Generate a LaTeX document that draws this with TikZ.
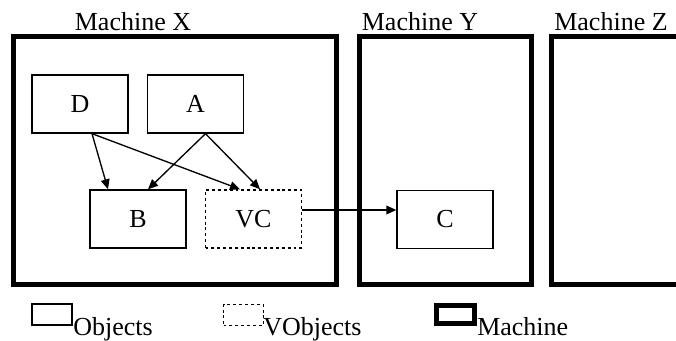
\documentclass[tikz,border=0pt]{standalone}
\usepackage{fontspec}
\setmainfont{Liberation Serif}
\usetikzlibrary{arrows.meta,positioning,calc}

\begin{document}
\begin{tikzpicture}[
  x=0.75pt, y=-0.75pt, every node/.style={font=\fontsize{19.5}{22}\selectfont},
  mach/.style={draw, line width=3.75pt, inner sep=0pt, minimum height=186pt},
  obj/.style={draw, line width=1pt, minimum width=72pt, minimum height=43.5pt, inner sep=0pt},
  vobj/.style={obj, dash pattern=on 2.2pt off 2.2pt, line width=1.1pt},
  mlbl/.style={anchor=base, inner sep=0pt},
  key/.style={draw, line width=1.3pt, minimum width=30pt, minimum height=15.5pt, inner sep=0pt},
  keytxt/.style={anchor=base west, inner sep=0pt},
  rr/.style={-{Triangle[length=7.5pt,width=6.5pt]}, line width=1pt},
]
\useasboundingbox (0,0) rectangle (676,341);
\clip (0,0) rectangle (676,341);
% ---------------- machines ----------------
\node[mach, minimum width=241.9pt] (mX) at (174.75,160.5) {};
\node[mlbl] (lX) at (133,31) {Machine X};
\node[mach, minimum width=129pt] (mY) at (445.5,160.5) {};
\node[mlbl] (lY) at (420,31) {Machine Y};
\node[mach, minimum width=129pt] (mZ) at (637.5,160.5) {};
\node[mlbl] (lZ) at (611,31) {Machine Z};
% ---------------- objects ----------------
\node[obj] (D) at (80,104) {D};
\node[obj] (A) at (195.5,104) {A};
\node[obj] (B) at (138,219) {B};
\node[vobj] (VC) at (253.5,219) {VC};
\node[obj] (C) at (445,219.5) {C};
% ---------------- references ----------------
\draw[rr] ($(D.south)+(12,0)$) -- ($(B.north)+(-30,0)$);
\draw[rr] ($(D.south)+(12,0)$) -- ($(VC.north)+(-13.5,0)$);
\draw[rr] ($(A.south)+(10,0)$) -- ($(B.north)+(10,0)$);
\draw[rr] ($(A.south)+(10,0)$) -- ($(VC.north)+(6.5,0)$);
\draw[rr] ($(VC.east)+(0,-9)$) -- ($(C.west)+(0,-9.5)$);
% ---------------- legend ----------------
\node[key] (kObj) at (52,314.5) {};
\node[keytxt] (tObj) at (73,335.5) {Objects};
\node[key, dash pattern=on 2.2pt off 2.2pt, line width=1.1pt] (kVObj) at (243.5,315) {};
\node[keytxt] (tVObj) at (263,335.5) {VObjects};
\node[key, line width=3.75pt, minimum width=28.5pt, minimum height=13.5pt] (kMach) at (455.5,314.5) {};
\node[keytxt] (tMach) at (477,335.5) {Machine};
\end{tikzpicture}
\end{document}
